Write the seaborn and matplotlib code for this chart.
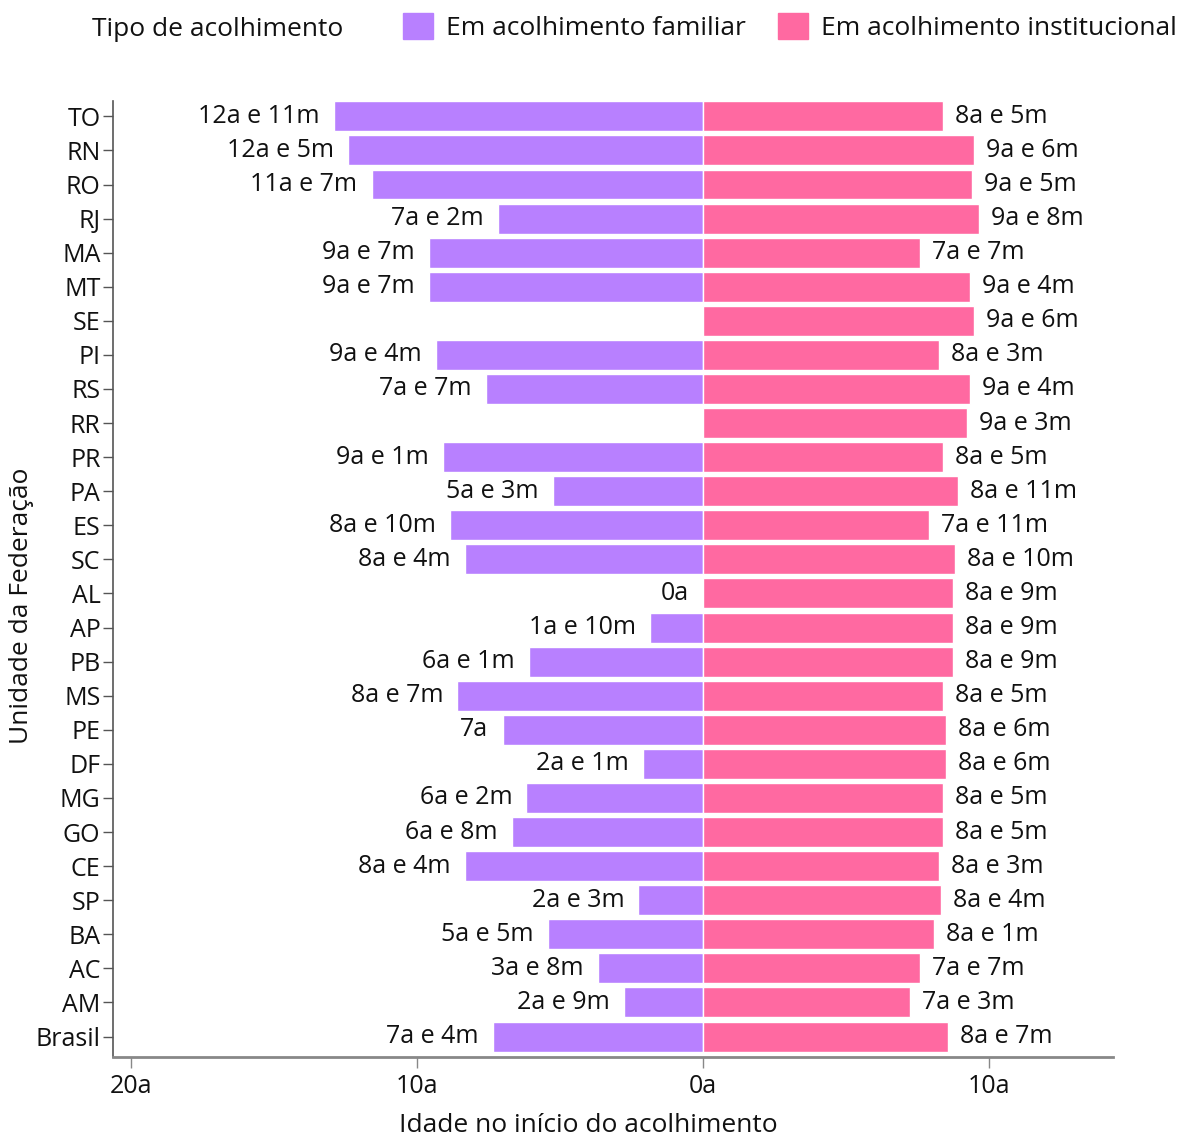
import matplotlib
matplotlib.use("Agg")
import matplotlib.pyplot as plt
import matplotlib.patches as mpatches
import seaborn as sns
import pandas as pd
import numpy as np

ufs = ["TO", "RN", "RO", "RJ", "MA", "MT", "SE", "PI", "RS", "RR", "PR", "PA", "ES", "SC",
       "AL", "AP", "PB", "MS", "PE", "DF", "MG", "GO", "CE", "SP", "BA", "AC", "AM", "Brasil"]
fam_years = [12, 12, 11, 7, 9, 9, None, 9, 7, None, 9, 5, 8, 8, 0, 1, 6, 8, 7, 2, 6, 6, 8, 2, 5, 3, 2, 7]
fam_months = [11, 5, 7, 2, 7, 7, None, 4, 7, None, 1, 3, 10, 4, 0, 10, 1, 7, 0, 1, 2, 8, 4, 3, 5, 8, 9, 4]
inst_years = [8, 9, 9, 9, 7, 9, 9, 8, 9, 9, 8, 8, 7, 8, 8, 8, 8, 8, 8, 8, 8, 8, 8, 8, 8, 7, 7, 8]
inst_months = [5, 6, 5, 8, 7, 4, 6, 3, 4, 3, 5, 11, 11, 10, 9, 9, 9, 5, 6, 6, 5, 5, 3, 4, 1, 7, 3, 7]
xticks = [-20, -10, 0, 10]
xtick_labels = ["20a", "10a", "0a", "10a"]

PURPLE = "#B880FF"
PINK = "#FF69A1"

def fmt(y, m):
    if y is None:
        return None
    return f"{y}a" if m == 0 else f"{y}a e {m}m"

def val(y, m):
    return np.nan if y is None else y + m / 12.0

df = pd.DataFrame({
    "uf": ufs,
    "fam": [-val(y, m) for y, m in zip(fam_years, fam_months)],
    "inst": [val(y, m) for y, m in zip(inst_years, inst_months)],
})

sns.set_theme(style="white")
plt.rcParams["font.family"] = ["Open Sans", "DejaVu Sans"]
TXT = "#111111"
plt.rcParams["text.color"] = TXT

fig = plt.figure(figsize=(11.83, 11.38), dpi=100)
ax = fig.add_axes([113/1183, 1 - 1057/1138, 1000/1183, (1057-101)/1138])

sns.barplot(data=df, y="uf", x="fam", orient="h", color=PURPLE, width=0.88,
            saturation=1, ax=ax, order=ufs)
sns.barplot(data=df, y="uf", x="inst", orient="h", color=PINK, width=0.88,
            saturation=1, ax=ax, order=ufs)

fs = 18
fs_title = 19
for i, (fy, fm, iy, im) in enumerate(zip(fam_years, fam_months, inst_years, inst_months)):
    lab = fmt(fy, fm)
    if lab is not None:
        ax.text(-val(fy, fm) - 0.5, i, lab, ha="right", va="center", fontsize=fs, color=TXT)
    ax.text(val(iy, im) + 0.42, i, fmt(iy, im), ha="left", va="center", fontsize=fs, color=TXT)

ax.set_xlim(-20.63, 14.35)
ax.set_ylim(27.6, -0.45)
ax.set_xticks(xticks)
ax.set_xticklabels(xtick_labels, fontsize=fs)
ax.set_yticklabels(ufs, fontsize=fs)
ax.tick_params(axis="y", left=True, length=7, width=1, color="#555555", pad=2, labelcolor=TXT)
ax.tick_params(axis="x", bottom=True, length=8, width=1, color="#888888", pad=4, labelcolor=TXT)
ax.set_xlabel("")
ax.set_ylabel("")
sns.despine(ax=ax)
ax.spines["left"].set_color("#555555")
ax.spines["left"].set_linewidth(1.2)
ax.spines["bottom"].set_color("#888888")
ax.spines["bottom"].set_linewidth(2)

fig.text(588/1183, 1 - 1125/1138, "Idade no início do acolhimento", ha="center", va="center", fontsize=fs_title, color=TXT)
fig.text(22/1183, 1 - 606/1138, "Unidade da Federação", ha="center", va="center", rotation=90, fontsize=fs_title, color=TXT)

fig.text(92/1183, 1 - 30/1138, "Tipo de acolhimento", ha="left", va="center", fontsize=fs_title, color=TXT)
handles = [mpatches.Patch(color=PURPLE, label="Em acolhimento familiar"),
           mpatches.Patch(color=PINK, label="Em acolhimento institucional")]
fig.legend(handles=handles, ncol=2, loc="center left", bbox_to_anchor=(403/1183, 1 - 27/1138),
           frameon=False, prop={"size": fs_title}, handlelength=1.14, handleheight=1.14, handletextpad=0.5,
           columnspacing=1.2, borderaxespad=0, borderpad=0)

fig.savefig("out.png", dpi=100)
